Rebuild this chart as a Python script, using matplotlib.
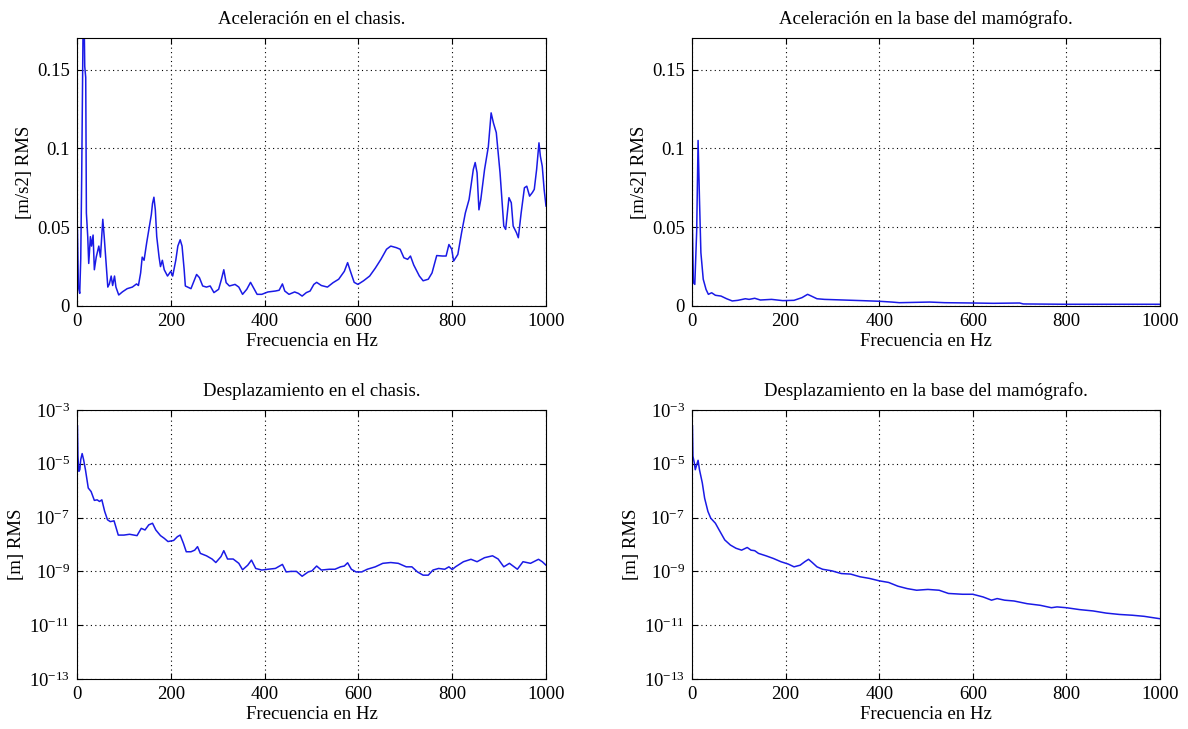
import matplotlib
matplotlib.use("Agg")
import matplotlib.pyplot as plt
import numpy as np

# ---------------- data ----------------
f_acc_chasis = [1, 3, 5.8, 8, 10, 12.2, 14, 16.5, 18.6, 20, 22.9, 25, 28.6, 31, 34.3, 37, 41, 46.5,
                50, 55, 58, 62, 65.7, 69, 72.9, 76, 80, 83, 89, 97, 107, 118, 127, 131, 135.7, 139,
                143, 148.5, 153, 158.5, 161, 164, 167, 170, 175, 178, 182, 186, 193, 200, 204,
                210.6, 215, 220, 224, 228.5, 231, 243, 255, 261, 268, 276, 284, 292, 302, 308,
                313, 318, 325, 337, 345, 353, 362, 370, 378, 384, 394, 407, 423, 431, 438, 443,
                452, 464, 472, 480, 489, 497, 505, 511, 521, 534, 546, 558, 570, 577, 583, 591,
                599, 611, 624, 636, 648, 660, 669, 681, 689, 697, 705, 711, 718, 730, 738, 749,
                757, 767, 779, 787, 793, 799, 803, 812, 820, 828, 836, 845, 849, 853, 857, 861,
                869, 877, 883, 888, 894, 902, 910, 914, 921, 926, 930, 937, 941, 947, 954, 959,
                965, 971, 975, 980, 985, 988, 992, 996, 1000]
a_chasis = [0.048, 0.012, 0.008, 0.03, 0.082, 0.157, 0.21, 0.152, 0.145, 0.059, 0.044, 0.027, 0.044,
            0.038, 0.045, 0.023, 0.031, 0.038, 0.031, 0.055, 0.044, 0.027, 0.012, 0.014, 0.019,
            0.013, 0.019, 0.012, 0.007, 0.009, 0.011, 0.012, 0.014, 0.013, 0.021, 0.031, 0.029,
            0.040, 0.048, 0.058, 0.065, 0.069, 0.061, 0.044, 0.031, 0.025, 0.029, 0.023, 0.019,
            0.022, 0.019, 0.029, 0.038, 0.042, 0.038, 0.023, 0.0127, 0.011, 0.020, 0.018, 0.0127,
            0.012, 0.0127, 0.0085, 0.0106, 0.017, 0.023, 0.0148, 0.0127, 0.0137, 0.012, 0.0074,
            0.0106, 0.015, 0.0106, 0.0074, 0.0074, 0.0089, 0.0095, 0.010, 0.014, 0.0095, 0.0074,
            0.0089, 0.008, 0.0063, 0.0085, 0.0095, 0.0137, 0.015, 0.013, 0.012, 0.0148, 0.017,
            0.022, 0.0275, 0.022, 0.015, 0.0137, 0.016, 0.019, 0.024, 0.0296, 0.036, 0.038, 0.037,
            0.036, 0.0306, 0.0296, 0.0317, 0.026, 0.019, 0.016, 0.017, 0.021, 0.032, 0.0317,
            0.0317, 0.039, 0.036, 0.0285, 0.0327, 0.0465, 0.059, 0.0676, 0.0866, 0.091, 0.0845,
            0.061, 0.0676, 0.0866, 0.101, 0.1225, 0.116, 0.11, 0.0845, 0.0507, 0.0486, 0.0687,
            0.0655, 0.0507, 0.0465, 0.0433, 0.059, 0.075, 0.076, 0.0697, 0.072, 0.074, 0.0866,
            0.1035, 0.095, 0.0887, 0.074, 0.0634]

f_acc_base = [1, 3, 6, 10, 13, 16, 19, 24, 30, 35, 42, 50, 62, 74, 86, 98, 114, 122, 134, 146, 170,
              194, 218, 235, 247, 255, 267, 283, 323, 363, 400, 427, 443, 508, 540, 600, 644, 700,
              708, 800, 1000]
a_base = [0.048, 0.0148, 0.0137, 0.0475, 0.105, 0.0675, 0.0338, 0.017, 0.0105, 0.0074, 0.0084,
          0.0068, 0.0063, 0.0046, 0.0032, 0.0036, 0.0046, 0.0042, 0.0049, 0.0038, 0.0042, 0.0034,
          0.0036, 0.0053, 0.0074, 0.0063, 0.0046, 0.0042, 0.0038, 0.0034, 0.003, 0.0025, 0.0021,
          0.0025, 0.0021, 0.0019, 0.0017, 0.0019, 0.0013, 0.0011, 0.0011]

f_des_chasis = [1, 2, 4, 6, 8, 11, 14, 18, 24, 30, 37, 43, 48, 53, 59, 65, 71, 79, 88, 100, 112,
                128, 137, 145, 153, 161, 168, 178, 186, 194, 206, 214, 220, 227, 233, 243, 251,
                257, 263, 276, 288, 296, 307, 313, 321, 333, 345, 353, 364, 372, 381, 394, 407,
                423, 438, 446, 456, 468, 480, 493, 501, 511, 521, 538, 550, 562, 570, 577, 585,
                595, 607, 619, 636, 652, 669, 685, 702, 714, 726, 738, 749, 759, 771, 784, 793,
                800, 807, 824, 840, 853, 869, 886, 898, 910, 922, 939, 951, 967, 984, 992, 1000]
log_d_chasis = [-3.6, -4.72, -5.28, -5.22, -4.84, -4.62, -4.84, -5.22, -5.9, -6.03, -6.36, -6.34,
                -6.4, -6.34, -6.77, -7.08, -7.15, -7.12, -7.65, -7.65, -7.62, -7.67, -7.4, -7.46,
                -7.27, -7.21, -7.46, -7.67, -7.77, -7.89, -7.85, -7.71, -7.65, -7.96, -8.27,
                -8.27, -8.21, -8.08, -8.33, -8.42, -8.54, -8.67, -8.45, -8.23, -8.54, -8.54,
                -8.7, -8.94, -8.77, -8.58, -8.89, -8.95, -8.92, -8.89, -8.74, -9.02, -9.0, -9.0,
                -9.18, -9.02, -8.98, -8.8, -8.95, -8.92, -8.92, -8.83, -8.8, -8.68, -8.92, -9.02,
                -9.02, -8.92, -8.83, -8.7, -8.67, -8.7, -8.83, -8.83, -9.02, -9.14, -9.14, -8.95,
                -8.89, -8.92, -8.83, -8.93, -8.83, -8.64, -8.55, -8.64, -8.49, -8.42, -8.54,
                -8.83, -8.7, -8.92, -8.64, -8.7, -8.55, -8.64, -8.77]

f_des_base = [1, 2, 5, 7, 10, 13, 16, 22, 27, 34, 40, 50, 58, 70, 82, 94, 106, 118, 126, 134, 142,
              158, 174, 190, 206, 218, 231, 241, 249, 257, 267, 279, 299, 319, 339, 359, 379, 400,
              420, 440, 460, 480, 504, 528, 548, 578, 600, 622, 640, 652, 668, 688, 716, 744, 768,
              780, 800, 828, 857, 885, 913, 941, 966, 1000]
log_d_base = [-3.6, -4.72, -4.97, -5.22, -5.04, -4.87, -5.22, -5.71, -6.28, -6.77, -7.02, -7.21,
              -7.46, -7.83, -8.02, -8.14, -8.21, -8.11, -8.21, -8.23, -8.33, -8.42, -8.52, -8.64,
              -8.73, -8.83, -8.77, -8.64, -8.55, -8.67, -8.83, -8.92, -8.98, -9.08, -9.1, -9.2,
              -9.26, -9.35, -9.41, -9.55, -9.64, -9.7, -9.67, -9.7, -9.82, -9.85, -9.85, -9.95,
              -10.07, -10.01, -10.07, -10.1, -10.2, -10.26, -10.35, -10.32, -10.35, -10.42,
              -10.47, -10.55, -10.6, -10.63, -10.67, -10.76]

titles = ["Aceleración en el chasis.", "Aceleración en la base del mamógrafo.",
          "Desplazamiento en el chasis.", "Desplazamiento en la base del mamógrafo."]
xlabel = "Frecuencia en Hz"
ylabels = ["[m/s2] RMS", "[m/s2] RMS", "[m] RMS", "[m] RMS"]
xticks = [0, 200, 400, 600, 800, 1000]
acc_yticks = [0, 0.05, 0.1, 0.15]
acc_yticklabels = ["0", "0.05", "0.1", "0.15"]
log_exps = [-13, -11, -9, -7, -5, -3]

# ---------------- style ----------------
plt.rcParams['font.family'] = ['Liberation Serif', 'DejaVu Serif']
plt.rcParams['mathtext.fontset'] = 'custom'
plt.rcParams['mathtext.rm'] = 'Liberation Serif'
plt.rcParams['mathtext.it'] = 'Liberation Serif:italic'
FS = 13.5

fig = plt.figure(figsize=(11.88, 7.29), dpi=100)
fig.patch.set_facecolor('white')

W = 1188.0
H = 729.0
positions = [
    [77 / W, 1 - 306 / H, 469 / W, 268 / H],
    [692 / W, 1 - 306 / H, 468 / W, 268 / H],
    [77 / W, 1 - 679 / H, 469 / W, 269 / H],
    [692 / W, 1 - 679 / H, 468 / W, 269 / H],
]

series = [
    (f_acc_chasis, a_chasis, False),
    (f_acc_base, a_base, False),
    (f_des_chasis, [10.0 ** v for v in log_d_chasis], True),
    (f_des_base, [10.0 ** v for v in log_d_base], True),
]

for i, (pos, (fx, fy, islog)) in enumerate(zip(positions, series)):
    ax = fig.add_axes(pos)
    ax.plot(fx, fy, color='#1a1ae6', lw=1.1)
    ax.set_xlim(0, 1000)
    ax.set_xticks(xticks)
    ax.set_xticklabels([str(t) for t in xticks], fontsize=FS)
    if islog:
        ax.set_yscale('log')
        ax.set_ylim(1e-13, 1e-3)
        ax.set_yticks([10.0 ** e for e in log_exps])
        ax.set_yticklabels([r'$10^{\mathrm{%d}}$' % e for e in log_exps], fontsize=FS)
        ax.minorticks_off()
    else:
        ax.set_ylim(0, 0.17)
        ax.set_yticks(acc_yticks)
        ax.set_yticklabels(acc_yticklabels, fontsize=FS)
    ax.grid(True, color='black', linestyle=(0, (1, 3)), linewidth=0.8)
    ax.tick_params(direction='in', length=4, width=0.8, top=True, right=True,
                   pad=5, colors='black')
    for s in ax.spines.values():
        s.set_linewidth(0.8)
        s.set_color('black')
    ax.set_title(titles[i], fontsize=FS, pad=10)
    ax.set_xlabel(xlabel, fontsize=FS, labelpad=2)
    ax.set_ylabel(ylabels[i], fontsize=FS, labelpad=3)

fig.savefig("out.png", dpi=100, facecolor='white')
